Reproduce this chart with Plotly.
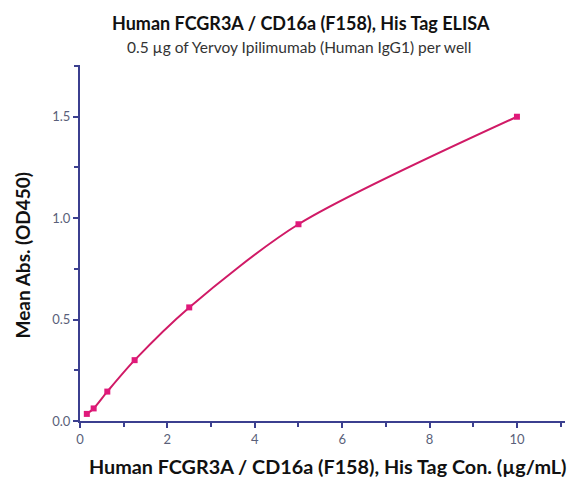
import plotly.graph_objects as go

conc = [0.156, 0.3125, 0.625, 1.25, 2.5, 5, 10]
od450 = [0.035, 0.062, 0.145, 0.30, 0.56, 0.97, 1.50]

x_ticks = [0, 2, 4, 6, 8, 10]
y_ticks = [0.0, 0.5, 1.0, 1.5]
y_tick_text = ["0.0", "0.5", "1.0", "1.5"]

axis_col = "#3b3f8f"
fig = go.Figure()
fig.add_trace(go.Scatter(
    x=conc, y=od450, mode="lines",
    line=dict(color="#d01a66", width=2, shape="spline", smoothing=0.8),
    hoverinfo="skip", showlegend=False))
fig.add_trace(go.Scatter(
    x=conc, y=od450, mode="markers",
    marker=dict(symbol="square", size=6, color="#e0197a"),
    showlegend=False))

font_fam = "Lato, Open Sans, sans-serif"
fig.update_layout(
    width=568, height=476,
    paper_bgcolor="white", plot_bgcolor="white",
    margin=dict(l=72, r=11, t=57, b=63),
    font=dict(family=font_fam, color="#000"),
    annotations=[
        dict(text="<b>Human FCGR3A / CD16a (F158), His Tag ELISA</b>", x=0.5, y=1,
             xref="paper", yref="paper", xanchor="center", yanchor="middle", yshift=42, xshift=-22,
             showarrow=False, font=dict(size=18, color="#111")),
        dict(text="0.5 µg of Yervoy Ipilimumab (Human IgG1) per well", x=0.5, y=1,
             xref="paper", yref="paper", xanchor="center", yanchor="middle", yshift=18, xshift=-24,
             showarrow=False, font=dict(size=15.5, color="#333")),
        dict(text="<b>Human FCGR3A / CD16a (F158), His Tag Con. (µg/mL)</b>", x=0.5, y=0,
             xref="paper", yref="paper", xanchor="center", yanchor="middle", yshift=-45, xshift=5,
             showarrow=False, font=dict(size=19.8, color="#111")),
        dict(text="<b>Mean Abs. (OD450)</b>", x=0, y=0.465, textangle=-90,
             xref="paper", yref="paper", xanchor="center", yanchor="middle", xshift=-58,
             showarrow=False, font=dict(size=19, color="#111")),
    ],
)
fig.update_xaxes(
    range=[0, 11.1], tickvals=x_ticks, ticks="outside", ticklen=5, tickwidth=2,
    tickcolor=axis_col, showline=True, linecolor=axis_col, linewidth=2,
    showgrid=False, zeroline=False, automargin=False,
    minor=dict(dtick=1, ticks="outside", ticklen=4, tickwidth=2, tickcolor=axis_col),
    tickfont=dict(size=13, color="#5a5f7a"))
fig.update_yaxes(
    range=[0, 1.755], tickvals=y_ticks, ticktext=y_tick_text, ticks="outside", ticklen=5,
    tickwidth=2, tickcolor=axis_col, showline=True, linecolor=axis_col, linewidth=2,
    showgrid=False, zeroline=False, automargin=False,
    minor=dict(dtick=0.25, ticks="outside", ticklen=4, tickwidth=2, tickcolor=axis_col),
    tickfont=dict(size=13, color="#5a5f7a"))

fig.write_html("out.html")
